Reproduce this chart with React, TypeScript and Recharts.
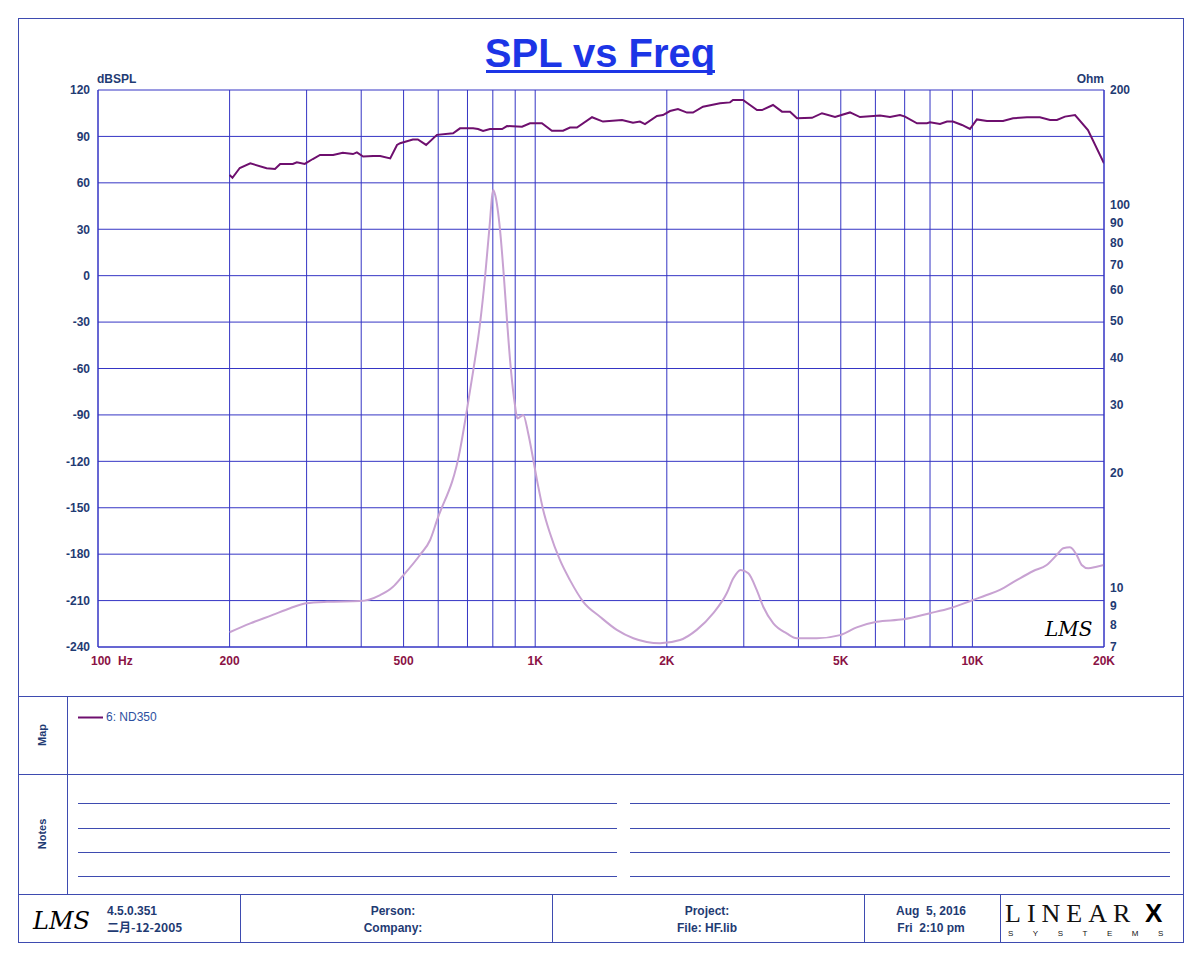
import React from 'react';
import { LineChart, Line, XAxis, YAxis, CartesianGrid } from 'recharts';

// SPL curve (left axis, dBSPL)
const splFreq = [
  200, 203, 211, 223, 243, 254, 261, 279, 285, 297, 310, 322, 345, 363, 383, 391, 404, 426, 442, 466,
  483, 491, 525, 539, 563, 596, 649, 673, 721, 740, 760, 788, 840, 862, 933, 973, 1036, 1092, 1158, 1201,
  1246, 1349, 1429, 1580, 1674, 1736, 1783, 1899, 1960, 2034, 2121, 2224, 2296, 2420, 2647, 2790, 2834, 2987, 3216, 3302,
  3499, 3669, 3827, 3971, 4297, 4529, 4851, 5248, 5533, 6148, 6479, 6830, 7012, 7470, 7874, 7998, 8432, 8749, 9027, 9467,
  9874, 10240, 10800, 11750, 12390, 13330, 14270, 15050, 15610, 16280, 17170, 18380, 20000,
];
const splDb = [
  65, 63.3, 69.6, 72.6, 69.4, 69, 72.2, 72.2, 73.3, 72.2, 75.4, 78, 78, 79.5, 78.6, 79.7, 77, 77.4, 77.4, 75.8,
  84.5, 85.6, 88, 88, 84.5, 91, 92, 95.2, 95.2, 94.8, 93.5, 94.8, 94.8, 96.7, 96.3, 98.5, 98.5, 93.7, 93.7, 95.7,
  95.7, 102.4, 99.6, 100.6, 98.9, 99.6, 98, 103.2, 103.8, 106.4, 107.7, 105.4, 105.4, 109.2, 111.4, 112, 113.5, 113.5, 107, 107,
  110.3, 106, 106, 101.7, 102, 105, 102.5, 105.5, 102.5, 103.5, 102.5, 103.8, 102.8, 98.5, 98.5, 99.1, 98, 99.6, 99.6, 97.4,
  94.8, 101, 100, 100, 101.7, 102.4, 102.4, 100.6, 100.6, 102.8, 103.8, 94.1, 72.6,
];

// impedance curve (right axis, Ohm)
const impFreq = [
  200, 223, 251, 275, 299, 334, 397, 442, 473, 496, 545, 575, 596, 673, 695, 722, 748, 768, 785, 802,
  810, 831, 848, 863, 880, 899, 910, 939, 964, 990, 1016, 1043, 1081, 1139, 1201, 1288, 1407, 1537, 1677, 1930,
  2144, 2341, 2555, 2742, 2839, 2951, 3072, 3211, 3324, 3505, 3760, 3964, 4405, 4981, 5437, 6040, 6950, 7998, 8889, 10030,
  10780, 11560, 12630, 13780, 14790, 15590, 16140, 16720, 17320, 17780, 18410, 19240, 20000,
];
const impOhm = [
  7.65, 8.07, 8.49, 8.84, 9.11, 9.19, 9.23, 9.57, 10.06, 10.69, 12.18, 13.33, 15.0, 22.9, 28.3, 37.1, 49.1, 65, 86.1, 109.5,
  106.3, 86.1, 65, 49.1, 37.1, 30, 27.7, 28.3, 25.3, 21.6, 18.4, 15.97, 13.88, 11.82, 10.47, 9.19, 8.4, 7.76, 7.38, 7.16,
  7.3, 7.76, 8.58, 9.67, 10.58, 11.13, 10.91, 9.87, 8.92, 8.07, 7.6, 7.38, 7.38, 7.52, 7.88, 8.15, 8.27, 8.58, 8.84, 9.29,
  9.57, 9.87, 10.47, 11.06, 11.47, 12.18, 12.68, 12.76, 12.18, 11.47, 11.24, 11.35, 11.47,
];

const freqTicks = [100, 200, 300, 400, 500, 600, 700, 800, 900, 1000, 2000, 3000, 4000, 5000, 6000, 7000, 8000, 9000, 10000, 20000];
const freqLabels: Record<number, string> = { 100: '100', 200: '200', 500: '500', 1000: '1K', 2000: '2K', 5000: '5K', 10000: '10K', 20000: '20K' };
const dbTicks = [-240, -210, -180, -150, -120, -90, -60, -30, 0, 30, 60, 90, 120];
const ohmTicks = [7, 8, 9, 10, 20, 30, 40, 50, 60, 70, 80, 90, 100, 200];

const splData = splFreq.map((f, i) => ({ f, v: splDb[i] }));
const impData = impFreq.map((f, i) => ({ f, v: impOhm[i] }));

const GRID = '#3535C4';
const FRAME = '#3E4BB0';
const NAVY = '#1F3B73';
const MAROON = '#8A1245';
const FONT = '"Liberation Sans", Arial, sans-serif';

const FreqTick = ({ x, y, payload }: any) => {
  const label = freqLabels[payload.value];
  if (!label) return <g />;
  const style = { fill: MAROON, fontSize: 12, fontWeight: 'bold' as const, fontFamily: FONT };
  if (payload.value === 100) {
    return (
      <g>
        <text x={x + 3} y={y + 10} textAnchor="middle" {...style}>{label}</text>
        <text x={x + 20} y={y + 10} textAnchor="start" {...style}>Hz</text>
      </g>
    );
  }
  return <text x={x} y={y + 10} textAnchor="middle" {...style}>{label}</text>;
};

const txt = { fill: NAVY, fontFamily: FONT, fontWeight: 'bold' as const, fontSize: 12 };
const pre = { whiteSpace: 'pre' as const };

const Frame = () => (
  <svg width={1200} height={960} style={{ position: 'absolute', left: 0, top: 0 }}>
    <rect x={18.5} y={18.5} width={1165} height={924} fill="none" stroke={FRAME} />
    <line x1={18} x2={1184} y1={696.5} y2={696.5} stroke={FRAME} />
    <line x1={18} x2={1184} y1={774.5} y2={774.5} stroke={FRAME} />
    <line x1={18} x2={1184} y1={894.5} y2={894.5} stroke={FRAME} />
    <line x1={67.5} x2={67.5} y1={696} y2={894} stroke={FRAME} />
    {[240, 552, 864, 1000].map((x) => (
      <line key={x} x1={x + 0.5} x2={x + 0.5} y1={894} y2={942} stroke={FRAME} />
    ))}
    {[803, 828, 852, 876].map((y) => (
      <g key={y}>
        <line x1={78} x2={617} y1={y + 0.5} y2={y + 0.5} stroke={FRAME} />
        <line x1={630} x2={1170} y1={y + 0.5} y2={y + 0.5} stroke={FRAME} />
      </g>
    ))}

    {/* title */}
    <text x={600} y={67} textAnchor="middle" fill="#1C35E6" fontFamily={FONT} fontWeight="bold" fontSize={40}>
      SPL vs Freq
    </text>
    <rect x={486} y={70} width={229} height={3} fill="#1C35E6" />

    <text x={97} y={83} {...txt}>dBSPL</text>
    <text x={1104} y={83} textAnchor="end" {...txt}>Ohm</text>

    {/* LMS mark in plot */}
    <text x={1045} y={636} fontFamily='"DejaVu Serif", serif' fontStyle="italic" fontSize={20} fill="#000">LMS</text>

    {/* map / notes */}
    <text transform="translate(46 735) rotate(-90)" textAnchor="middle" {...txt} fontSize={11}>Map</text>
    <text transform="translate(46 834) rotate(-90)" textAnchor="middle" {...txt} fontSize={11}>Notes</text>
    <line x1={78} x2={103} y1={717.5} y2={717.5} stroke="#6E0F6E" strokeWidth={2} />
    <text x={106} y={721} fill="#2D4FA0" fontFamily={FONT} fontSize={12}>6: ND350</text>

    {/* footer */}
    <text x={33} y={929} fontFamily='"DejaVu Serif", serif' fontStyle="italic" fontSize={24} fill="#000">LMS</text>
    <text x={107} y={915} {...txt}>4.5.0.351</text>
    <text x={107} y={932} {...txt} fontFamily='"Noto Sans CJK SC", sans-serif'>二月-12-2005</text>
    <text x={393} y={915} textAnchor="middle" {...txt}>Person:</text>
    <text x={393} y={932} textAnchor="middle" {...txt}>Company:</text>
    <text x={707} y={915} textAnchor="middle" {...txt}>Project:</text>
    <text x={707} y={932} textAnchor="middle" {...txt}>File: HF.lib</text>
    <text x={931} y={915} textAnchor="middle" style={pre} {...txt}>Aug  5, 2016</text>
    <text x={931} y={932} textAnchor="middle" style={pre} {...txt}>Fri  2:10 pm</text>
    <text x={1005} y={922} fontFamily='"Liberation Serif", serif' fontSize={26} letterSpacing={6} fill="#111">LINEAR</text>
    <text x={1145} y={922} fontFamily={FONT} fontWeight="bold" fontSize={26} fill="#000">X</text>
    <text x={1008} y={936} fontFamily={FONT} fontSize={8} letterSpacing={19.5} fill="#111">SYSTEMS</text>
  </svg>
);

export default function App() {
  return (
    <div style={{ position: 'absolute', left: 0, top: 0, width: 1200, height: 960, background: '#fff' }}>
      <Frame />
      <div style={{ position: 'absolute', left: 40, top: 80 }}>
        <LineChart width={1124} height={597} margin={{ top: 10, right: 0, bottom: 0, left: 0 }}>
          <CartesianGrid yAxisId="left" stroke={GRID} strokeWidth={1} />
          <XAxis
            dataKey="f"
            type="number"
            scale="log"
            domain={[100, 20000]}
            allowDataOverflow
            ticks={freqTicks}
            interval={0}
            height={30}
            tickLine={false}
            axisLine={{ stroke: GRID }}
            tick={<FreqTick />}
          />
          <YAxis
            yAxisId="left"
            type="number"
            domain={[-240, 120]}
            ticks={dbTicks}
            interval={0}
            width={58}
            tickLine={false}
            axisLine={{ stroke: GRID }}
            tick={{ fill: NAVY, fontSize: 12, fontWeight: 'bold', fontFamily: FONT }}
          />
          <YAxis
            yAxisId="right"
            orientation="right"
            type="number"
            scale="log"
            domain={[7, 200]}
            allowDataOverflow
            ticks={ohmTicks}
            interval={0}
            width={60}
            tickLine={false}
            tickSize={4}
            axisLine={{ stroke: GRID }}
            tick={{ fill: NAVY, fontSize: 12, fontWeight: 'bold', fontFamily: FONT, textAnchor: 'start' }}
          />
          <Line
            yAxisId="right"
            data={impData}
            dataKey="v"
            type="monotone"
            stroke="#C8A2D2"
            strokeWidth={2}
            dot={false}
            isAnimationActive={false}
          />
          <Line
            yAxisId="left"
            data={splData}
            dataKey="v"
            type="linear"
            stroke="#6E0F6E"
            strokeWidth={2}
            dot={false}
            isAnimationActive={false}
          />
        </LineChart>
      </div>
    </div>
  );
}
